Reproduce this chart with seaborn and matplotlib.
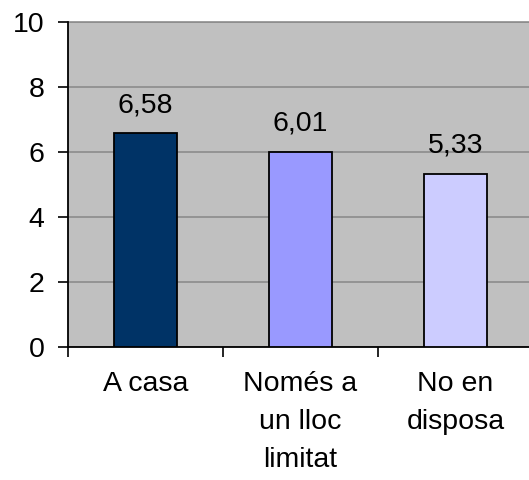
import matplotlib
matplotlib.use('Agg')
from matplotlib import pyplot as plt
import seaborn as sns
import pandas as pd

# data
categories = ['A casa', 'Només a\nun lloc\nlimitat', 'No en\ndisposa']
values = [6.58, 6.01, 5.33]
labels = ['6,58', '6,01', '5,33']
colors = ['#003366', '#9999FF', '#CCCCFF']

sns.set_style('white')
plt.rcParams['font.family'] = ['Liberation Sans', 'DejaVu Sans']
plt.rcParams['text.color'] = 'black'
plt.rcParams['xtick.color'] = 'black'
plt.rcParams['ytick.color'] = 'black'

df = pd.DataFrame({'cat': categories, 'val': values})

fig = plt.figure(figsize=(5.29, 4.8), dpi=100)
ax = fig.add_axes([68 / 529, 133 / 480, 465 / 529, 325 / 480])
ax.set_facecolor('#C0C0C0')

sns.barplot(data=df, x='cat', y='val', hue='cat', palette=colors, legend=False,
            saturation=1, width=0.41, edgecolor='black', linewidth=1.3, ax=ax, zorder=3)

ax.set_xlim(-0.5, 2.5)
ax.set_ylim(0, 10)
ax.set_yticks([0, 2, 4, 6, 8, 10])
ax.yaxis.grid(True, color='#8c8c8c', linewidth=1.2, zorder=0)
ax.set_axisbelow(True)

fs = 20.5
for i, (v, t) in enumerate(zip(values, labels)):
    ax.annotate(t, (i, v), xytext=(0, 20), textcoords='offset points',
                ha='center', va='center', fontsize=fs, color='black')

# category boundary ticks on x, labels centred under bars
ax.set_xticks([-0.5, 0.5, 1.5])
ax.set_xticklabels([])
ax.set_xticks([0, 1, 2], minor=True)
ax.set_xticklabels(categories, minor=True, fontsize=fs, linespacing=1.6, va='top')
ax.tick_params(axis='x', which='minor', length=0, pad=17.5)
ax.tick_params(axis='x', which='major', direction='out', length=7, width=1.2, bottom=True)
ax.tick_params(axis='y', direction='out', length=7, width=1.2, left=True,
               labelsize=fs, pad=10)

ax.set_xlabel('')
ax.set_ylabel('')
for side in ['top', 'right']:
    ax.spines[side].set_visible(False)
ax.spines['left'].set_color('black')
ax.spines['left'].set_linewidth(1.3)
ax.spines['bottom'].set_color('black')
ax.spines['bottom'].set_linewidth(1.3)
ax.axhline(10, color='#8c8c8c', linewidth=1.2, zorder=1, clip_on=False)

fig.savefig('out.png', dpi=100)
